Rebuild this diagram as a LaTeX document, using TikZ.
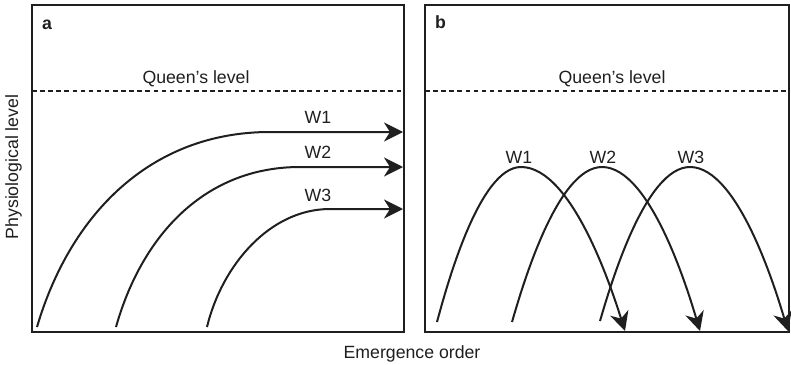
\documentclass[tikz,border=0pt]{standalone}
\usepackage{fontspec}
\setmainfont{Liberation Sans}
\usetikzlibrary{arrows.meta}
\begin{document}
\begin{tikzpicture}[x=1pt,y=-1pt,
  panel/.style={draw=black!88, line width=2pt},
  queenline/.style={draw=black!88, line width=1.6pt, dash pattern=on 4.5pt off 3.6pt},
  curve/.style={draw=black!88, line width=2pt},
  arr/.style={-{Stealth[length=19pt,width=19pt,inset=6pt]}},
  lbl/.style={font=\fontsize{17.7}{20}\selectfont, inner sep=0pt, anchor=base, text=black!88},
  plbl/.style={font=\bfseries\fontsize{17.7}{20}\selectfont, inner sep=0pt, anchor=base west, text=black!88}
]
\useasboundingbox (0,0) rectangle (791,364);

% panels
\draw[panel] (32,5) rectangle (404,332);
\draw[panel] (425,5) rectangle (789,332);
\node[plbl] (la) at (42,29) {a};
\node[plbl] (lb) at (435,28.5) {b};

% queen's level
\coordinate (qa1) at (32,91);
\coordinate (qa2) at (404,91);
\coordinate (qb1) at (425,91);
\coordinate (qb2) at (789,91);
\draw[queenline] (qa1) -- (qa2);
\draw[queenline] (qb1) -- (qb2);
\node[lbl] (qta) at (196,83) {Queen’s level};
\node[lbl] (qtb) at (612,83) {Queen’s level};

% panel a curves
\coordinate (a1s) at (37,327);
\coordinate (a1h) at (270,132);
\coordinate (a1e) at (403,132);
\coordinate (a2s) at (116,327);
\coordinate (a2h) at (300,167);
\coordinate (a2e) at (403,167);
\coordinate (a3s) at (207,327);
\coordinate (a3h) at (330,209);
\coordinate (a3e) at (403,209);
\draw[curve,arr] (a1s) .. controls (70,215) and (150,132) .. (a1h) -- (a1e);
\draw[curve,arr] (a2s) .. controls (142,235) and (205,167) .. (a2h) -- (a2e);
\draw[curve,arr] (a3s) .. controls (222,265) and (270,209) .. (a3h) -- (a3e);
\node[lbl] (wa1) at (318,123.5) {W1};
\node[lbl] (wa2) at (318,158) {W2};
\node[lbl] (wa3) at (318,201) {W3};

% panel b curves
\coordinate (b1s) at (437,322);
\coordinate (b1p) at (521,167);
\coordinate (b1e) at (625,331);
\coordinate (b2s) at (512,322);
\coordinate (b2p) at (602,167);
\coordinate (b2e) at (700,331);
\coordinate (b3s) at (600,321);
\coordinate (b3p) at (690,167);
\coordinate (b3e) at (788,331);
\draw[curve,arr] (b1s) parabola bend (b1p) (b1e);
\draw[curve,arr] (b2s) parabola bend (b2p) (b2e);
\draw[curve,arr] (b3s) parabola bend (b3p) (b3e);
\node[lbl] (wb1) at (519,163) {W1};
\node[lbl] (wb2) at (603,163) {W2};
\node[lbl] (wb3) at (691,163) {W3};

% axis labels
\node[lbl, rotate=90] (ylab) at (18,167) {Physiological level};
\node[lbl] (xlab) at (412,358) {Emergence order};
\end{tikzpicture}
\end{document}
